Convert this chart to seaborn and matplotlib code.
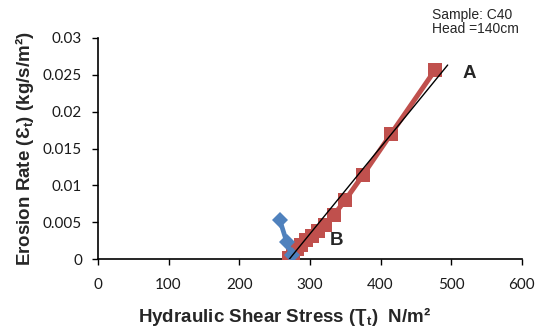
import matplotlib
matplotlib.use("Agg")
import matplotlib.pyplot as plt
import seaborn as sns
import pandas as pd

# Data
red_x = [270, 276, 282, 288, 295, 303, 312, 322, 334, 350, 375, 415, 477]
red_y = [0.0002, 0.0008, 0.0014, 0.0020, 0.0026, 0.0032, 0.0038, 0.0046,
         0.0060, 0.0080, 0.0114, 0.0170, 0.0256]
blue_x = [257.5, 267, 274]
blue_y = [0.0053, 0.0024, 0.0006]
trend_x = [270.7, 495]
trend_y = [0.0, 0.0263]
x_ticks = [0, 100, 200, 300, 400, 500, 600]
y_ticks = [0, 0.005, 0.01, 0.015, 0.02, 0.025, 0.03]
y_tick_labels = ["0", "0.005", "0.01", "0.015", "0.02", "0.025", "0.03"]

sns.set_style("ticks")
plt.rcParams['font.family'] = ['Lato', 'DejaVu Sans']
plt.rcParams['mathtext.fontset'] = 'custom'
plt.rcParams['mathtext.bf'] = 'Liberation Sans:bold'
plt.rcParams['mathtext.rm'] = 'Liberation Sans'

fig = plt.figure(figsize=(5.38, 3.28), dpi=100)
ax = fig.add_axes([0.182, 0.2095, 0.788, 0.6755])

red_df = pd.DataFrame({"x": red_x, "y": red_y})
blue_df = pd.DataFrame({"x": blue_x, "y": blue_y})
trend_df = pd.DataFrame({"x": trend_x, "y": trend_y})

sns.lineplot(data=red_df, x="x", y="y", ax=ax, sort=False, color="#C0504D",
             linewidth=3.6, marker="s", markersize=10.5, markeredgewidth=0,
             zorder=3)
sns.lineplot(data=blue_df, x="x", y="y", ax=ax, sort=False, color="#4F81BD",
             linewidth=3.4, marker="D", markersize=8.5, markeredgewidth=0,
             zorder=3.5)
sns.lineplot(data=trend_df, x="x", y="y", ax=ax, sort=False, color="black",
             linewidth=1.0, zorder=4)

ax.set_xlim(0, 600)
ax.set_ylim(0, 0.03)
ax.set_xticks(x_ticks)
ax.set_yticks(y_ticks)
ax.set_yticklabels(y_tick_labels)
ax.tick_params(axis="both", labelsize=11, direction="out", length=4.5,
               width=1, colors="black", labelcolor="#1a1a1a")
ax.tick_params(axis="x", pad=9)
ax.tick_params(axis="y", pad=7)
for s in ["top", "right"]:
    ax.spines[s].set_visible(False)
for s in ["left", "bottom"]:
    ax.spines[s].set_color("black")
    ax.spines[s].set_linewidth(1.2)

lab_font = dict(family=['Liberation Sans', 'DejaVu Sans'], fontweight="bold",
                fontsize=13.5)
ax.set_xlabel("Hydraulic Shear Stress (Ʈ$_\\mathbf{t}$)  N/m²", **lab_font)
ax.xaxis.set_label_coords(0.441, -0.205)
ax.set_ylabel("Erosion Rate (Ɛ$_\\mathbf{t}$) (kg/s/m²)", labelpad=5,
              **lab_font)

ax.text(525, 0.0251, "A", fontsize=13.5, fontweight="bold",
        family=['Liberation Sans', 'DejaVu Sans'], ha="center", va="center")
ax.text(338, 0.0026, "B", fontsize=13.5, fontweight="bold",
        family=['Liberation Sans', 'DejaVu Sans'], ha="center", va="center")

fig.text(0.803, 0.975, "Sample: C40\nHead =140cm", fontsize=10,
         family=['Liberation Sans', 'DejaVu Sans'], ha="left", va="top",
         linespacing=1.0)

fig.savefig("out.png", dpi=100)
